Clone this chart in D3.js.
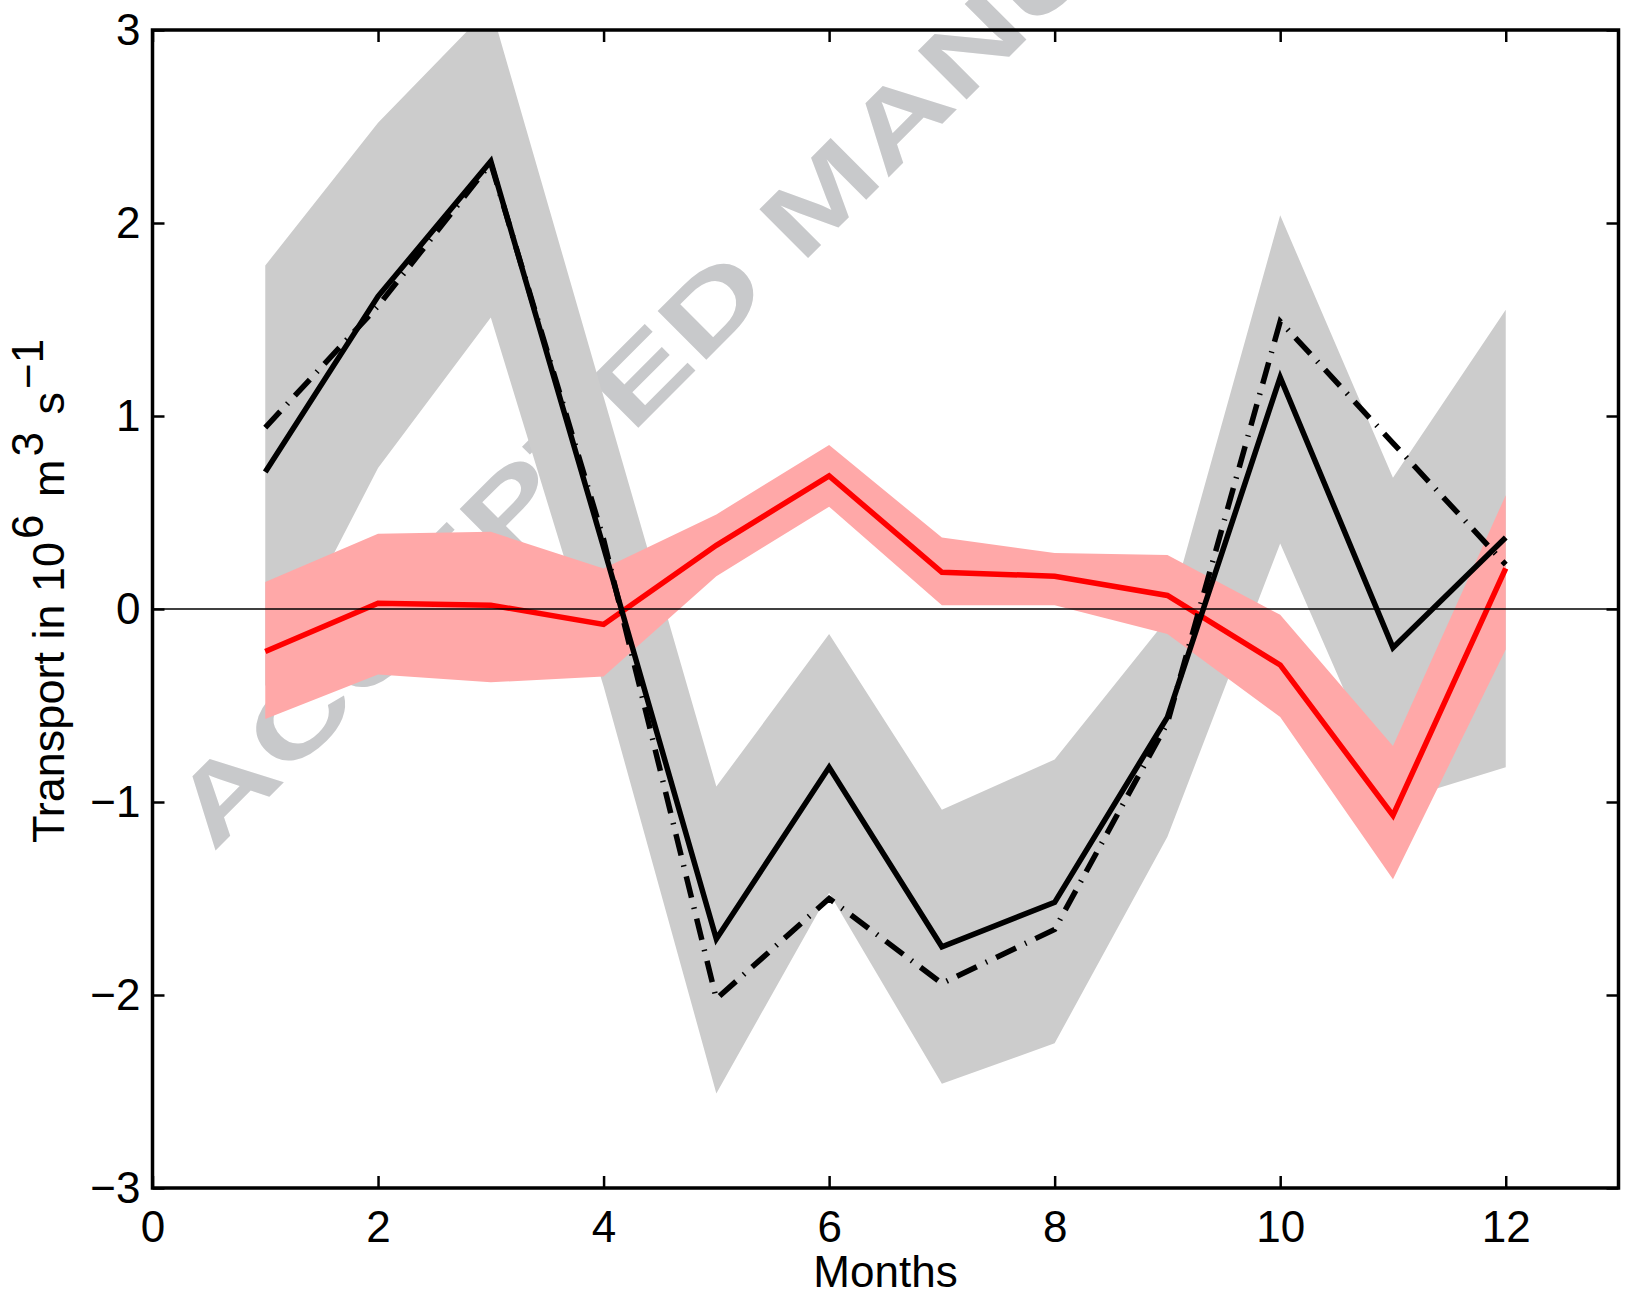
<!DOCTYPE html>
<html>
<head>
<meta charset="utf-8">
<script src="https://cdn.jsdelivr.net/npm/d3@7"></script>
<style>
  body { margin: 0; background: #fff; }
  text { font-family: "Liberation Sans", Arial, Helvetica, sans-serif; }
</style>
</head>
<body>
<div id="chart-area"></div>
<script>
// Monthly transport, 10^6 m^3/s
const months = [1, 2, 3, 4, 5, 6, 7, 8, 9, 10, 11, 12]
const solidLine = [0.71, 1.62, 2.32, 0.32, -1.71, -0.82, -1.75, -1.52, -0.56, 1.20, -0.20, 0.37]
const dashDotLine = [0.94, 1.57, 2.31, 0.36, -2.02, -1.50, -1.94, -1.66, -0.59, 1.49, 0.86, 0.23]
const grayUpper = [1.78, 2.52, 3.12, 1.10, -0.92, -0.13, -1.04, -0.78, -0.05, 2.04, 0.68, 1.55]
const grayLower = [-0.40, 0.73, 1.51, -0.40, -2.51, -1.47, -2.46, -2.25, -1.18, 0.34, -1.00, -0.82]
const redLine = [-0.22, 0.03, 0.02, -0.08, 0.33, 0.69, 0.19, 0.17, 0.07, -0.29, -1.07, 0.21]
const redUpper = [0.14, 0.39, 0.40, 0.21, 0.49, 0.85, 0.37, 0.29, 0.28, -0.03, -0.71, 0.59]
const redLower = [-0.57, -0.34, -0.38, -0.35, 0.17, 0.53, 0.02, 0.02, -0.13, -0.56, -1.40, -0.21]

const xTicks = [0, 2, 4, 6, 8, 10, 12]
const yTicks = [-3, -2, -1, 0, 1, 2, 3]

const MARGIN = { LEFT: 152.5, TOP: 30 }
const WIDTH = 1466
const HEIGHT = 1158

const svg = d3.select("#chart-area").append("svg")
  .attr("width", 1627)
  .attr("height", 1299)

// watermark sits under everything
svg.append("text")
  .attr("transform", "translate(213,853) rotate(-45) scale(1.44,1)")
  .attr("font-size", "100px")
  .attr("font-weight", "bold")
  .attr("fill", "#c8c9cb")
  .text("ACCEPTED MANUSCRIPT")

const g = svg.append("g")
  .attr("transform", `translate(${MARGIN.LEFT}, ${MARGIN.TOP})`)

g.append("clipPath").attr("id", "plot-clip")
  .append("rect").attr("width", WIDTH).attr("height", HEIGHT)

// Scales
const x = d3.scaleLinear().domain([0, 13]).range([0, WIDTH])
const y = d3.scaleLinear().domain([-3, 3]).range([HEIGHT, 0])

const rows = months.map((m, i) => ({
  m,
  solid: solidLine[i], dash: dashDotLine[i],
  gHi: grayUpper[i], gLo: grayLower[i],
  red: redLine[i], rHi: redUpper[i], rLo: redLower[i]
}))

const plot = g.append("g").attr("clip-path", "url(#plot-clip)")

const band = (lo, hi) => d3.area()
  .x(d => x(d.m))
  .y0(d => y(d[lo]))
  .y1(d => y(d[hi]))
const line = key => d3.line()
  .x(d => x(d.m))
  .y(d => y(d[key]))

plot.append("path").datum(rows)
  .attr("d", band("gLo", "gHi"))
  .attr("fill", "#cccccc")
plot.append("path").datum(rows)
  .attr("d", band("rLo", "rHi"))
  .attr("fill", "#ffa8a8")

plot.append("path").datum(rows)
  .attr("d", line("red"))
  .attr("fill", "none")
  .attr("stroke", "#ff0000")
  .attr("stroke-width", 5.5)
plot.append("path").datum(rows)
  .attr("d", line("dash"))
  .attr("fill", "none")
  .attr("stroke", "#000")
  .attr("stroke-width", 5.5)
  .attr("stroke-dasharray", "22,10,1.5,10")
plot.append("path").datum(rows)
  .attr("d", line("solid"))
  .attr("fill", "none")
  .attr("stroke", "#000")
  .attr("stroke-width", 5.5)

// zero line
g.append("line")
  .attr("x1", 0).attr("x2", WIDTH)
  .attr("y1", y(0)).attr("y2", y(0))
  .attr("stroke", "#000")
  .attr("stroke-width", 1.3)

// Axes, ticks pointing inward on all four sides
const styleAxis = sel => {
  sel.select(".domain").remove()
  sel.selectAll(".tick line").attr("stroke", "#000").attr("stroke-width", 2.5)
  sel.selectAll(".tick text").attr("font-size", "44px").attr("fill", "#000")
    .attr("font-family", '"Liberation Sans", Arial, sans-serif')
}

g.append("g")
  .attr("transform", `translate(0, ${HEIGHT})`)
  .call(d3.axisBottom(x).tickValues(xTicks).tickSize(-12).tickPadding(23).tickFormat(d3.format("d")))
  .call(styleAxis)
g.append("g")
  .call(d3.axisTop(x).tickValues(xTicks).tickSize(-12).tickFormat(""))
  .call(styleAxis)
g.append("g")
  .call(d3.axisLeft(y).tickValues(yTicks).tickSize(-12).tickPadding(12).tickFormat(d3.format("d")))
  .call(styleAxis)
g.append("g")
  .attr("transform", `translate(${WIDTH}, 0)`)
  .call(d3.axisRight(y).tickValues(yTicks).tickSize(-12).tickFormat(""))
  .call(styleAxis)

g.append("rect")
  .attr("width", WIDTH).attr("height", HEIGHT)
  .attr("fill", "none")
  .attr("stroke", "#000")
  .attr("stroke-width", 3.5)

// Labels
g.append("text")
  .attr("x", WIDTH / 2)
  .attr("y", HEIGHT + 99)
  .attr("text-anchor", "middle")
  .attr("font-size", "44px")
  .text("Months")

const yLabel = svg.append("text")
  .attr("transform", "translate(64, 843) rotate(-90)")
  .attr("font-size", "45px")
yLabel.append("tspan").text("Transport in 10")
yLabel.append("tspan").attr("dx", 3).attr("dy", -21).attr("font-size", "44px").text("6")
yLabel.append("tspan").attr("dx", 5).attr("dy", 21).text(" m")
yLabel.append("tspan").attr("dx", 3).attr("dy", -21).attr("font-size", "44px").text("3")
yLabel.append("tspan").attr("dx", 5).attr("dy", 21).text(" s")
yLabel.append("tspan").attr("dx", 3).attr("dy", -21).attr("font-size", "44px").text("\u22121")
</script>
</body>
</html>
